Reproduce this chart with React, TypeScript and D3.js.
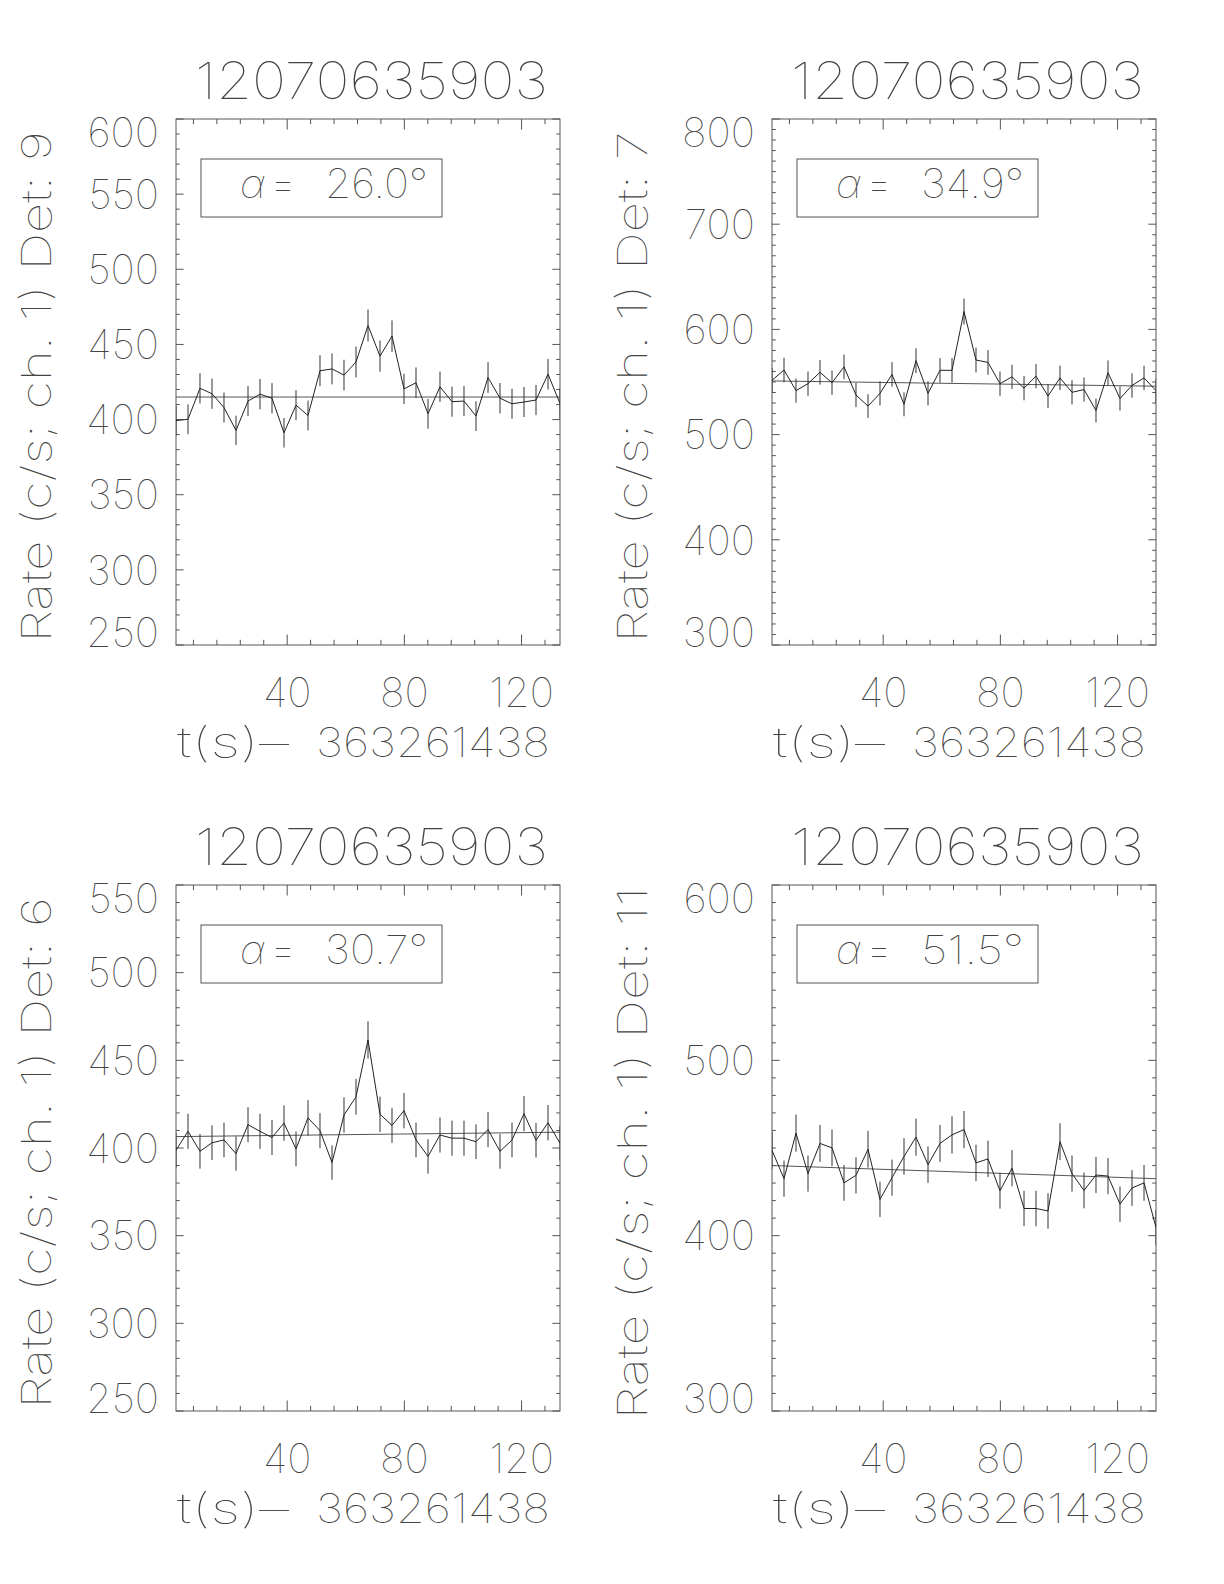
import React from 'react';
import * as d3 from 'd3';

const W = 1224;
const H = 1584;
const FONT = 'Inter, "DejaVu Sans", sans-serif';

const burstName = '12070635903';
const tOffset = '363261438';

// bin start times (s) relative to tOffset
const times = [2.05, 6.15, 10.24, 14.34, 18.43, 22.53, 26.63, 30.72, 34.82, 38.91, 43.01,
    47.11, 51.2, 55.3, 59.39, 63.49, 67.59, 71.68, 75.78, 79.87, 83.97, 88.07, 92.16,
    96.26, 100.35, 104.45, 108.55, 112.64, 116.74, 120.83, 124.93, 129.03, 133.12];
const xDomain = [2.05, 133.12];
const xMajorTicks = [40, 80, 120];

// Det 9
const rates9 = [399.3, 400.2, 420.8, 417.2, 408.0, 392.8, 412.3, 416.9, 414.2, 391.2, 409.6,
    402.7, 432.5, 433.7, 429.6, 438.3, 462.6, 442.2, 455.5, 420.4, 424.5, 403.9, 421.8,
    411.9, 412.3, 402.3, 428.0, 414.2, 410.5, 411.7, 413.0, 430.2, 410.7];
const errs9 = [9.9, 9.9, 10.1, 10.1, 10.0, 9.8, 10.0, 10.1, 10.1, 9.8, 10.0, 9.9, 10.3, 10.3,
    10.2, 10.3, 10.6, 10.4, 10.5, 10.1, 10.2, 9.9, 10.1, 10.0, 10.0, 9.9, 10.2, 10.1, 10.0,
    10.0, 10.0, 10.2, 10.0];
const fit9 = [415, 415];

// Det 7
const rates7 = [551.6, 561.4, 541.8, 548.4, 559.2, 549.3, 564.4, 537.6, 527.1, 539.2, 557.2,
    528.8, 570.3, 539.2, 561.1, 561.1, 617.0, 570.9, 568.6, 548.4, 554.9, 544.1, 555.6,
    536.6, 553.9, 540.2, 542.8, 522.9, 558.8, 534.3, 546.7, 553.9, 541.8];
const errs7 = [11.6, 11.7, 11.5, 11.6, 11.7, 11.6, 11.7, 11.5, 11.3, 11.5, 11.7, 11.4, 11.8,
    11.5, 11.7, 11.7, 12.3, 11.8, 11.8, 11.6, 11.6, 11.5, 11.6, 11.4, 11.6, 11.5, 11.5, 11.3,
    11.7, 11.4, 11.6, 11.6, 11.5];
const fit7 = [551, 546];

// Det 6
const rates6 = [398.7, 409.5, 398.1, 403.0, 404.6, 396.8, 413.3, 409.5, 406.0, 414.2, 399.5,
    417.2, 409.9, 391.7, 418.8, 429.2, 461.6, 419.2, 412.9, 421.3, 404.6, 395.2, 407.4,
    405.6, 405.6, 403.6, 410.5, 398.1, 404.6, 419.6, 404.4, 414.4, 402.7];
const errs6 = [9.9, 10.0, 9.9, 9.9, 9.9, 9.8, 10.0, 10.0, 10.0, 10.1, 9.9, 10.1, 10.0, 9.8,
    10.1, 10.2, 10.6, 10.1, 10.0, 10.1, 9.9, 9.8, 10.0, 10.0, 10.0, 9.9, 10.0, 9.9, 9.9,
    10.1, 9.9, 10.1, 9.9];
const fit6 = [406.5, 409];

// Det 11
const rates11 = [448.7, 432.5, 458.5, 435.4, 452.6, 450.1, 430.1, 434.4, 449.3, 420.7, 433.1,
    445.2, 456.2, 440.5, 452.6, 457.5, 460.5, 441.5, 443.8, 425.6, 438.5, 415.5, 415.5,
    414.1, 453.6, 435.4, 425.8, 434.6, 434.0, 418.0, 427.2, 430.1, 404.7];
const errs11 = [10.5, 10.3, 10.6, 10.3, 10.5, 10.5, 10.2, 10.3, 10.5, 10.1, 10.3, 10.4, 10.6,
    10.4, 10.5, 10.6, 10.6, 10.4, 10.4, 10.2, 10.3, 10.1, 10.1, 10.1, 10.5, 10.3, 10.2, 10.3,
    10.3, 10.1, 10.2, 10.2, 9.9];
const fit11 = [440, 432.5];

const detectors = ['9', '7', '6', '11'];
const angles = ['26.0', '34.9', '30.7', '51.5'];
const yRanges = [[250, 600], [300, 800], [250, 550], [300, 600]];
const yMajorSteps = [50, 100, 50, 100];
const yMinorStep = 10;
const xMinorStep = 8;

const allRates = [rates9, rates7, rates6, rates11];
const allErrs = [errs9, errs7, errs6, errs11];
const allFits = [fit9, fit7, fit6, fit11];

// layout
const PW = 384;
const PH = 526;
const colX = [176, 772];
const rowY = [119, 885];
const AXIS = '#555';
const INK = '#222';
const TEXT = '#444';
const WEIGHT = 100;

function Panel({ i }) {
    const x0 = colX[i % 2];
    const y0 = rowY[Math.floor(i / 2)];
    const x1 = x0 + PW;
    const y1 = y0 + PH;
    const [lo, hi] = yRanges[i];

    const x = d3.scaleLinear().domain(xDomain).range([x0, x1]);
    const y = d3.scaleLinear().domain([lo, hi]).range([y1, y0]);

    const rates = allRates[i];
    const errs = allErrs[i];
    const fit = allFits[i];
    const pts = times.map((t, k) => ({ t, v: rates[k], e: errs[k] }));

    const line = d3.line().x(d => x(d.t)).y(d => y(d.v));

    const yMajor = d3.range(lo, hi + 0.001, yMajorSteps[i]);
    const yMinor = d3.range(lo, hi + 0.001, yMinorStep).filter(v => !yMajor.includes(v));
    const xMinor = d3.range(xMinorStep, xDomain[1], xMinorStep)
        .filter(v => v >= xDomain[0] && !xMajorTicks.includes(v));

    const yLen = [7.7, 3.8];
    const xLen = [10.5, 5.2];
    const clipId = `clip${i}`;

    const labelY = v => Math.min(Math.max(y(v), y0 + 13), y1 - 13);
    const title = `Rate (c/s; ch. 1) Det: ${detectors[i]}`;
    const txt = { fill: TEXT, fontFamily: FONT, fontWeight: WEIGHT };

    return (
        <g>
            <defs>
                <clipPath id={clipId}>
                    <rect x={x0} y={y0} width={PW} height={PH} />
                </clipPath>
            </defs>

            {/* title */}
            <text x={x0 + 19} y={y0 - 20} fontSize={51} textLength={353} lengthAdjust="spacingAndGlyphs"
                {...txt}>{burstName}</text>

            {/* frame */}
            <rect x={x0} y={y0} width={PW} height={PH} fill="none" stroke={AXIS} strokeWidth={1} />

            {/* y ticks both sides */}
            {[...yMajor.map(v => [v, 0]), ...yMinor.map(v => [v, 1])].map(([v, m]) => (
                <g key={'y' + v}>
                    <line x1={x0} x2={x0 + yLen[m]} y1={y(v)} y2={y(v)} stroke={AXIS} />
                    <line x1={x1} x2={x1 - yLen[m]} y1={y(v)} y2={y(v)} stroke={AXIS} />
                </g>
            ))}
            {/* x ticks both sides */}
            {[...xMajorTicks.map(v => [v, 0]), ...xMinor.map(v => [v, 1])].map(([v, m]) => (
                <g key={'x' + v}>
                    <line x1={x(v)} x2={x(v)} y1={y1} y2={y1 - xLen[m]} stroke={AXIS} />
                    <line x1={x(v)} x2={x(v)} y1={y0} y2={y0 + xLen[m]} stroke={AXIS} />
                </g>
            ))}

            {/* tick labels */}
            {yMajor.map(v => (
                <text key={'yl' + v} x={x0 - 17} y={labelY(v)} dy="0.36em" textAnchor="end"
                    fontSize={41} {...txt}>{v}</text>
            ))}
            {xMajorTicks.map(v => (
                <text key={'xl' + v} x={x(v)} y={y1 + 62} textAnchor="middle"
                    fontSize={41} {...txt}>{v}</text>
            ))}

            {/* axis titles */}
            <text x={x0 + 1} y={y1 + 112} fontSize={41} textLength={112} lengthAdjust="spacingAndGlyphs"
                {...txt}>t(s)–</text>
            <text x={x0 + 374} y={y1 + 112} fontSize={41} textAnchor="end" textLength={234}
                lengthAdjust="spacingAndGlyphs" {...txt}>{tOffset}</text>
            <text transform={`translate(${x0 - 125},${(y0 + y1) / 2 + 5}) rotate(-90)`} textAnchor="middle"
                fontSize={41} textLength={21.3 * title.length} lengthAdjust="spacingAndGlyphs"
                {...txt}>{title}</text>

            {/* angle box */}
            <rect x={x0 + 25} y={y0 + 40} width={241} height={58} fill="none" stroke={AXIS} />
            <text x={x0 + 64} y={y0 + 79} fontSize={40} fontStyle="italic" {...txt}>α</text>
            <text x={x0 + 94} y={y0 + 79} fontSize={40} textLength={26} lengthAdjust="spacingAndGlyphs"
                {...txt}>=</text>
            <text x={x0 + 149} y={y0 + 79} fontSize={40} textLength={103} lengthAdjust="spacingAndGlyphs"
                {...txt}>{angles[i]}°</text>

            <g clipPath={`url(#${clipId})`}>
                {/* background fit */}
                <line x1={x0} x2={x1} y1={y(fit[0])} y2={y(fit[1])} stroke="#555" strokeWidth={1} />
                {/* error bars */}
                {pts.map((d, k) => (
                    <line key={'e' + k} x1={x(d.t)} x2={x(d.t)} y1={y(d.v - d.e)} y2={y(d.v + d.e)}
                        stroke="#333" strokeWidth={1} />
                ))}
                {/* rate curve */}
                <path d={line(pts)} fill="none" stroke={INK} strokeWidth={1} />
            </g>
        </g>
    );
}

export default function App() {
    return (
        <svg width={W} height={H} viewBox={`0 0 ${W} ${H}`}
            style={{ position: 'absolute', left: 0, top: 0, background: '#fff', display: 'block' }}>
            <rect width={W} height={H} fill="#fff" />
            {[0, 1, 2, 3].map(i => <Panel key={i} i={i} />)}
        </svg>
    );
}
